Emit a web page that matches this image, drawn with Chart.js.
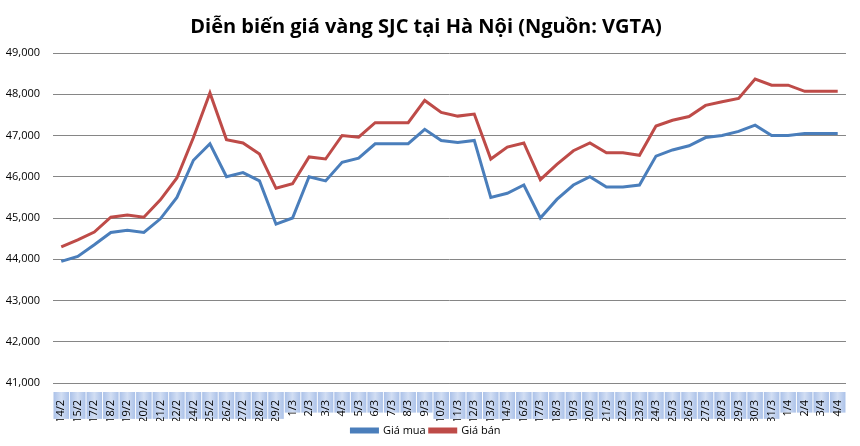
<!DOCTYPE html>
<html>
<head>
<meta charset="utf-8">
<script src="https://cdn.jsdelivr.net/npm/chart.js@4.4.1/dist/chart.umd.min.js"></script>
<style>
  html, body { margin: 0; padding: 0; background: #fff; }
  #wrap { width: 860px; height: 446px; }
</style>
</head>
<body>
<div id="wrap"><canvas id="goldChart"></canvas></div>
<script>
// Ngày giao dịch
const days = ['14/2','15/2','17/2','18/2','19/2','20/2','21/2','22/2','24/2','25/2','26/2','27/2','28/2','29/2',
  '1/3','2/3','3/3','4/3','5/3','6/3','7/3','8/3','9/3','10/3','11/3','12/3','13/3','14/3',
  '16/3','17/3','18/3','19/3','20/3','21/3','22/3','23/3','24/3','25/3','26/3','27/3','28/3','29/3','30/3','31/3',
  '1/4','2/4','3/4','4/4'];

// Giá mua (nghìn đồng/lượng)
const buyPrices = [43950,44070,44350,44650,44700,44650,44980,45500,46400,46800,46000,46100,45900,44850,
  45000,46000,45900,46350,46450,46800,46800,46800,47150,46880,46830,46880,45500,45600,
  45800,45000,45450,45800,46000,45750,45750,45800,46500,46650,46750,46950,47000,47100,47250,47000,
  47000,47050,47050,47050];

// Giá bán
const sellPrices = [44300,44470,44660,45020,45070,45020,45440,45970,46950,48030,46900,46820,46550,45720,
  45830,46480,46430,47000,46960,47310,47310,47310,47850,47560,47470,47520,46430,46720,
  46820,45930,46300,46630,46820,46580,46580,46520,47230,47370,47460,47730,47820,47900,48370,48220,
  48220,48070,48070,48070];

const yMin = 41000, yMax = 49000, yStep = 1000;

// light blue boxes behind the date labels
const labelBoxes = {
  id: 'labelBoxes',
  beforeDraw(chart) {
    const ctx = chart.ctx;
    const xs = chart.scales.x;
    const step = xs.getPixelForValue(1) - xs.getPixelForValue(0);
    ctx.save();
    ctx.font = '11px "Open Sans"';
    days.forEach((d, i) => {
      const cx = xs.getPixelForValue(i);
      const h = ctx.measureText(d).width + 4;
      const top = xs.top + 9;
      const g = ctx.createLinearGradient(cx - step / 2, 0, cx + step / 2, 0);
      g.addColorStop(0, '#a9c0e8');
      g.addColorStop(0.5, '#d2def3');
      g.addColorStop(1, '#a9c0e8');
      ctx.fillStyle = g;
      ctx.fillRect(cx - step / 2 + 0.5, top, step - 1, h);
    });
    ctx.restore();
  }
};

new Chart(document.getElementById('goldChart'), {
  type: 'line',
  data: {
    labels: days,
    datasets: [
      { label: 'Giá mua', data: buyPrices, borderColor: '#4a7ebb', backgroundColor: '#4a7ebb',
        borderWidth: 3, pointRadius: 0, tension: 0 },
      { label: 'Giá bán', data: sellPrices, borderColor: '#be4b48', backgroundColor: '#be4b48',
        borderWidth: 3, pointRadius: 0, tension: 0 }
    ]
  },
  options: {
    responsive: true,
    maintainAspectRatio: false,
    animation: false,
    layout: { padding: { left: 0, right: 8, top: 4, bottom: 0 } },
    plugins: {
      title: {
        display: true,
        text: 'Diễn biến giá vàng SJC tại Hà Nội (Nguồn: VGTA)',
        color: '#000',
        font: { family: '"Open Sans"', size: 20, weight: 'bold' },
        padding: { top: 11, bottom: 14 }
      },
      legend: {
        position: 'bottom',
        labels: {
          color: '#000',
          font: { family: '"Open Sans"', size: 11 },
          boxWidth: 26, boxHeight: 3, padding: 4
        }
      },
      tooltip: { enabled: false }
    },
    scales: {
      y: {
        min: yMin, max: yMax,
        ticks: {
          stepSize: yStep, color: '#000',
          font: { family: '"Open Sans"', size: 11 },
          callback: v => v.toLocaleString('en-US'),
          padding: 13
        },
        grid: { color: '#868686', drawTicks: false },
        border: { display: false },
        afterFit: s => { s.width = 53; }
      },
      x: {
        offset: true,
        ticks: {
          color: '#000', minRotation: 90, maxRotation: 90, autoSkip: false,
          font: { family: '"Open Sans"', size: 11 }, padding: 9
        },
        grid: { display: false },
        border: { color: '#868686', width: 1 },
        afterFit: s => { s.height = 38; }
      }
    }
  },
  plugins: [labelBoxes]
});
</script>
</body>
</html>
